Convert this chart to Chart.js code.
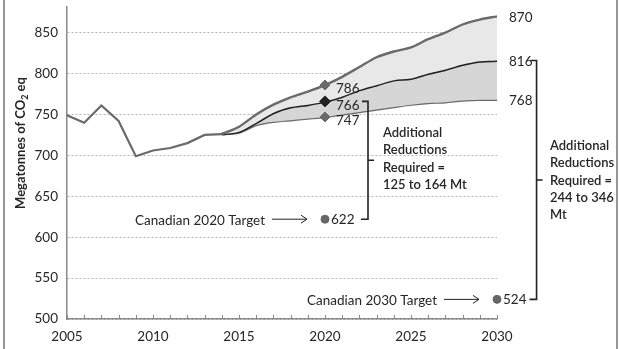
<!DOCTYPE html>
<html>
<head>
<meta charset="utf-8">
<script src="https://cdn.jsdelivr.net/npm/chart.js@4.4.1/dist/chart.umd.min.js"></script>
<style>
  html, body { margin: 0; padding: 0; background: #fff; }
  #wrap { width: 620px; height: 349px; position: relative; }
</style>
</head>
<body>
<div id="wrap"><canvas id="ghgChart" width="620" height="349"></canvas></div>
<script>
// historical emissions
var histYears = [2005, 2006, 2007, 2008, 2009, 2010, 2011, 2012, 2013, 2014];
var histValues = [749, 740, 761, 742, 699, 706, 709, 715, 725, 726];

// projections
var projYears = [2014, 2015, 2016, 2017, 2018, 2019, 2020, 2021, 2022, 2023, 2024, 2025, 2026, 2027, 2028, 2029, 2030];
var highValues = [726, 735, 750, 762, 771, 778, 786, 796, 808, 820, 827, 832, 842, 850, 860, 866, 870];
var midValues  = [726, 729, 740, 752, 759, 762, 766, 772, 780, 786, 792, 794, 800, 805, 811, 815, 816];
var lowValues  = [726, 728, 737, 741, 743, 745, 747, 750, 753, 756, 759, 762, 764, 765, 767, 768, 768];

// targets
var targetYears = [2020, 2030];
var targetValues = [622, 524];
var targetNames = ['Canadian 2020 Target', 'Canadian 2030 Target'];

var yTicks = [500, 550, 600, 650, 700, 750, 800, 850];

var textColor = '#262626';
var lineGrey = '#6a6a6a';
var fontFamily = 'Lato, "Open Sans", sans-serif';

function pts(xs, ys) {
  return xs.map(function (x, i) { return { x: x, y: ys[i] }; });
}
function at(xs, ys, year) {
  var i = xs.indexOf(year);
  return [{ x: year, y: ys[i] }];
}

var annotate = {
  id: 'annotate',
  afterDatasetsDraw: function (chart) {
    var ctx = chart.ctx;
    var xs = chart.scales.x, ys = chart.scales.y;
    var X = function (v) { return xs.getPixelForValue(v); };
    var Y = function (v) { return ys.getPixelForValue(v); };
    ctx.save();
    ctx.fillStyle = textColor;
    ctx.strokeStyle = '#222';
    ctx.font = '13.5px ' + fontFamily;
    ctx.textBaseline = 'middle';
    ctx.textAlign = 'left';

    // end labels
    var last = projYears.length - 1;
    [highValues[last], midValues[last], lowValues[last]].forEach(function (v) {
      ctx.fillText(String(v), X(2030) + 12, Y(v) + 1);
    });
    // 2020 labels
    var i20 = projYears.indexOf(2020);
    [highValues[i20], midValues[i20], lowValues[i20]].forEach(function (v) {
      ctx.fillText(String(v), X(2020) + 11, Y(v) + 4);
    });
    // targets
    targetYears.forEach(function (yr, k) {
      var px = X(yr), py = Y(targetValues[k]);
      ctx.textAlign = 'left';
      ctx.fillText(String(targetValues[k]), px + 6, py);
      ctx.textAlign = 'right';
      ctx.fillText(targetNames[k], px - 60, py + 1);
      // arrow
      ctx.lineWidth = 1;
      ctx.beginPath();
      ctx.moveTo(px - 53, py);
      ctx.lineTo(px - 18, py);
      ctx.moveTo(px - 24, py - 4);
      ctx.lineTo(px - 18, py);
      ctx.lineTo(px - 24, py + 4);
      ctx.stroke();
    });

    // brackets
    function bracket(x, top, bottom) {
      var mid = (top + bottom) / 2;
      ctx.lineWidth = 1.6;
      ctx.beginPath();
      ctx.moveTo(x - 6, top);
      ctx.lineTo(x, top);
      ctx.lineTo(x, bottom);
      ctx.lineTo(x - 7, bottom);
      ctx.moveTo(x, mid);
      ctx.lineTo(x + 6, mid);
      ctx.stroke();
    }
    bracket(X(2022.5), Y(midValues[i20]), Y(targetValues[0]));
    bracket(X(2032.3), Y(midValues[last]), Y(targetValues[1]));

    ctx.textAlign = 'left';
    ctx.font = '600 13px ' + fontFamily;
    ['Additional', 'Reductions', 'Required =', '125 to 164 Mt'].forEach(function (s, k) {
      ctx.fillText(s, 383, 133 + k * 17.3);
    });
    ['Additional', 'Reductions', 'Required =', '244 to 346', 'Mt'].forEach(function (s, k) {
      ctx.fillText(s, 550, 146 + k * 17.3);
    });

    // minor year ticks on the x axis
    ctx.strokeStyle = '#888';
    ctx.lineWidth = 1;
    xs.ticks.forEach(function (t) {
      var px = Math.round(X(t.value)) + 0.5;
      ctx.beginPath();
      ctx.moveTo(px, xs.top - 4);
      ctx.lineTo(px, xs.top);
      ctx.stroke();
    });

    // y axis title with subscript
    ctx.translate(21, 143);
    ctx.rotate(-Math.PI / 2);
    ctx.fillStyle = textColor;
    var a = 'Megatonnes of CO', b = '2', c = ' eq';
    ctx.font = 'bold 13px ' + fontFamily;
    var wa = ctx.measureText(a).width, wc = ctx.measureText(c).width;
    ctx.font = 'bold 9px ' + fontFamily;
    var wb = ctx.measureText(b).width;
    var start = -(wa + wb + wc) / 2;
    ctx.textAlign = 'left';
    ctx.font = 'bold 13px ' + fontFamily;
    ctx.fillText(a, start, 0);
    ctx.font = 'bold 9px ' + fontFamily;
    ctx.fillText(b, start + wa, 4);
    ctx.font = 'bold 13px ' + fontFamily;
    ctx.fillText(c, start + wa + wb, 0);
    ctx.restore();

    // frame
    ctx.save();
    ctx.strokeStyle = '#777';
    ctx.lineWidth = 1.5;
    ctx.beginPath();
    ctx.moveTo(4, 0); ctx.lineTo(4, 349);
    ctx.moveTo(617, 0); ctx.lineTo(617, 349);
    ctx.stroke();
    ctx.restore();
  }
};

var ctx = document.getElementById('ghgChart').getContext('2d');
var ghgChart = new Chart(ctx, {
  type: 'line',
  data: {
    datasets: [
      {
        data: pts(projYears, highValues),
        borderColor: lineGrey, borderWidth: 2.4,
        backgroundColor: '#e8e8e8',
        fill: '+1', pointRadius: 0, tension: 0.3
      },
      {
        data: pts(projYears, midValues),
        borderColor: '#222', borderWidth: 3,
        backgroundColor: '#d6d6d6',
        fill: '+1', pointRadius: 0, tension: 0.3
      },
      {
        data: pts(projYears, lowValues),
        borderColor: lineGrey, borderWidth: 2.4,
        fill: false, pointRadius: 0, tension: 0.3
      },
      {
        data: pts(histYears, histValues),
        borderColor: lineGrey, borderWidth: 2.2,
        fill: false, pointRadius: 0, tension: 0
      },
      // markers sit on top of the lines
      {
        type: 'scatter', order: -1, clip: false,
        data: at(projYears, highValues, 2020).concat(at(projYears, lowValues, 2020)),
        pointStyle: 'rectRot', pointRadius: 5,
        backgroundColor: lineGrey, borderColor: lineGrey
      },
      {
        type: 'scatter', order: -1, clip: false,
        data: at(projYears, midValues, 2020),
        pointStyle: 'rectRot', pointRadius: 5.5,
        backgroundColor: '#222', borderColor: '#222'
      },
      {
        type: 'scatter', order: -1, clip: false,
        data: pts(targetYears, targetValues),
        pointStyle: 'circle', pointRadius: 4,
        backgroundColor: '#666', borderColor: '#666'
      }
    ]
  },
  options: {
    responsive: false,
    animation: false,
    layout: { padding: { left: 0, right: 123, top: 0, bottom: 0 } },
    plugins: {
      legend: { display: false },
      tooltip: { enabled: false }
    },
    scales: {
      x: {
        type: 'linear',
        min: 2005, max: 2030,
        ticks: {
          stepSize: 1, autoSkip: false, maxRotation: 0, padding: 10,
          color: textColor,
          font: { family: fontFamily, size: 13.5 },
          callback: function (v) { return v % 5 === 0 ? String(v) : ''; }
        },
        grid: { display: false, drawTicks: false },
        border: { display: true, color: '#8a8a8a', width: 1.5 },
        afterFit: function (s) { s.height = 30; s.paddingLeft = 0; s.paddingRight = 0; }
      },
      y: {
        min: 500, max: 882,
        afterBuildTicks: function (s) {
          s.ticks = yTicks.map(function (v) { return { value: v }; });
        },
        ticks: {
          padding: 9, color: textColor,
          font: { family: fontFamily, size: 13.5 }
        },
        grid: { color: '#b5b5b5', drawTicks: false, lineWidth: 1 },
        border: { display: true, color: '#8a8a8a', width: 1.5, dash: [2, 2] },
        afterFit: function (s) { s.width = 67; s.paddingTop = 0; s.paddingBottom = 0; }
      }
    }
  },
  plugins: [annotate]
});
</script>
</body>
</html>
